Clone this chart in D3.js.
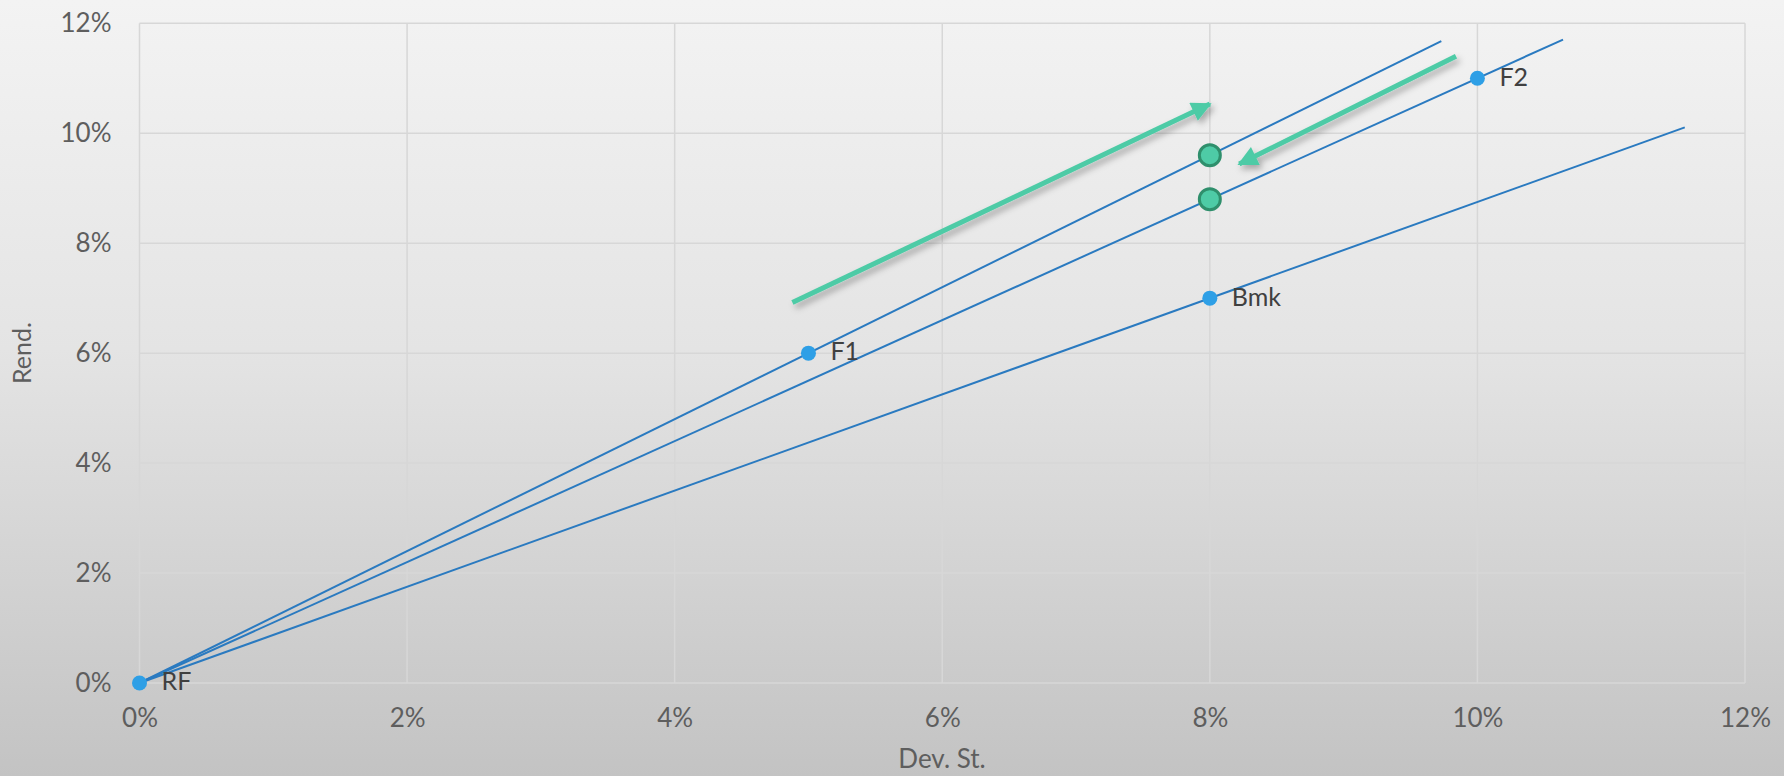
<!DOCTYPE html>
<html>
<head>
<meta charset="utf-8">
<script src="https://cdn.jsdelivr.net/npm/d3@7"></script>
<style>
  html, body { margin: 0; padding: 0; }
  body { width: 1784px; height: 776px; overflow: hidden; }
  svg { display: block; }
</style>
</head>
<body>
<svg id="chart" width="1784" height="776"></svg>
<script>
// Risk (std. dev., %) and return (%) of the portfolios
const pointNames = ["RF", "F1", "F2", "Bmk"];
const pointRisk = [0, 5, 10, 8];
const pointReturn = [0, 6, 11, 7];

// Capital allocation lines from RF through F1, F2 and Bmk, drawn up to these risk levels
const lineThrough = ["F1", "F2", "Bmk"];
const lineEndRisk = [9.73, 10.64, 11.55];

// Combined portfolios at 8% risk on the F1 and F2 lines
const comboRisk = [8, 8];
const comboReturn = [9.6, 8.8];

// Arrows: [start risk, start return] -> [end risk, end return]
const arrowFrom = [[4.88, 6.92], [9.84, 11.4]];
const arrowTo = [[8.0, 10.53], [8.22, 9.44]];

// Axis ticks
const xTicks = [0, 2, 4, 6, 8, 10, 12];
const yTicks = [0, 2, 4, 6, 8, 10, 12];

const W = 1784, H = 776;
const margin = { left: 139.5, right: 39, top: 23.3, bottom: 93 };

const svg = d3.select("#chart");
const defs = svg.append("defs");

const bg = defs.append("linearGradient").attr("id", "bg")
  .attr("x1", 0).attr("y1", 0).attr("x2", 0).attr("y2", 1);
bg.append("stop").attr("offset", "0%").attr("stop-color", "#f3f3f3");
bg.append("stop").attr("offset", "45%").attr("stop-color", "#e4e4e4");
bg.append("stop").attr("offset", "100%").attr("stop-color", "#c3c3c3");

const shadow = defs.append("filter").attr("id", "shadow")
  .attr("x", "-20%").attr("y", "-40%").attr("width", "140%").attr("height", "180%");
shadow.append("feDropShadow").attr("dx", 3).attr("dy", 4).attr("stdDeviation", 3)
  .attr("flood-color", "#000").attr("flood-opacity", 0.3);

defs.append("marker").attr("id", "head")
  .attr("viewBox", "0 0 10 10").attr("refX", 9).attr("refY", 5)
  .attr("markerWidth", 4.2).attr("markerHeight", 4).attr("orient", "auto")
  .attr("markerUnits", "strokeWidth")
  .append("path").attr("d", "M0,0 L10,5 L0,10 Z").attr("fill", "#4ecba6");

svg.append("rect").attr("width", W).attr("height", H).attr("fill", "url(#bg)");

const x = d3.scaleLinear().domain([0, 12]).range([margin.left, W - margin.right]);
const y = d3.scaleLinear().domain([0, 12]).range([H - margin.bottom, margin.top]);

const fontFamily = "Lato, 'Open Sans', sans-serif";

// Gridlines
const grid = svg.append("g");
grid.selectAll("line.v").data(xTicks).join("line")
  .attr("x1", d => x(d)).attr("x2", d => x(d))
  .attr("y1", y(0)).attr("y2", y(12))
  .attr("stroke", "#d7d7d7").attr("stroke-width", 1.5);
grid.selectAll("line.h").data(yTicks).join("line")
  .attr("x1", x(0)).attr("x2", x(12))
  .attr("y1", d => y(d)).attr("y2", d => y(d))
  .attr("stroke", "#d7d7d7").attr("stroke-width", 1.5);

// Axes (labels only)
const fmt = d => d + "%";
const xAxis = svg.append("g").attr("transform", `translate(0,${y(0) + 35})`)
  .call(d3.axisBottom(x).tickValues(xTicks).tickFormat(fmt).tickSize(0).tickPadding(0));
const yAxis = svg.append("g").attr("transform", `translate(${x(0) - 28},0)`)
  .call(d3.axisLeft(y).tickValues(yTicks).tickFormat(fmt).tickSize(0).tickPadding(0));
[xAxis, yAxis].forEach(a => {
  a.select(".domain").remove();
  a.selectAll("text").attr("fill", "#5e5e5e")
    .style("font-family", fontFamily).style("font-size", "26px");
});
xAxis.selectAll("text").attr("dy", "0.35em").attr("y", 0);

svg.append("text").attr("x", 942).attr("y", 761)
  .attr("text-anchor", "middle").attr("dominant-baseline", "middle")
  .attr("fill", "#5e5e5e").style("font-family", fontFamily).style("font-size", "26px")
  .text("Dev. St.");
svg.append("text").attr("transform", `translate(25,${(y(0) + y(12)) / 2}) rotate(-90)`)
  .attr("text-anchor", "middle").attr("dominant-baseline", "middle")
  .attr("fill", "#5e5e5e").style("font-family", fontFamily).style("font-size", "25px")
  .text("Rend.");

// Capital allocation lines
const lines = lineThrough.map((name, i) => {
  const k = pointNames.indexOf(name);
  const slope = pointReturn[k] / pointRisk[k];
  return [[0, 0], [lineEndRisk[i], lineEndRisk[i] * slope]];
});
const lineGen = d3.line().x(d => x(d[0])).y(d => y(d[1]));
svg.append("g").selectAll("path").data(lines).join("path")
  .attr("d", lineGen).attr("fill", "none")
  .attr("stroke", "#2a7ac0").attr("stroke-width", 2);

// Arrows
svg.append("g").selectAll("line").data(arrowFrom).join("line")
  .attr("x1", d => x(d[0])).attr("y1", d => y(d[1]))
  .attr("x2", (d, i) => x(arrowTo[i][0])).attr("y2", (d, i) => y(arrowTo[i][1]))
  .attr("stroke", "#4ecba6").attr("stroke-width", 5)
  .attr("marker-end", "url(#head)").attr("filter", "url(#shadow)");

// Portfolio points
svg.append("g").selectAll("circle").data(pointNames).join("circle")
  .attr("cx", (d, i) => x(pointRisk[i])).attr("cy", (d, i) => y(pointReturn[i]))
  .attr("r", 7.5).attr("fill", "#2e9fe6");

svg.append("g").selectAll("text").data(pointNames).join("text")
  .attr("x", (d, i) => x(pointRisk[i]) + 22).attr("y", (d, i) => y(pointReturn[i]) + 1)
  .attr("dominant-baseline", "middle")
  .attr("fill", "#404040").style("font-family", fontFamily).style("font-size", "25px")
  .text(d => d);

// Combined portfolios
svg.append("g").selectAll("circle").data(comboRisk).join("circle")
  .attr("cx", d => x(d)).attr("cy", (d, i) => y(comboReturn[i]))
  .attr("r", 10.5).attr("fill", "#4ecba6")
  .attr("stroke", "#2f8f6c").attr("stroke-width", 3);
</script>
</body>
</html>
